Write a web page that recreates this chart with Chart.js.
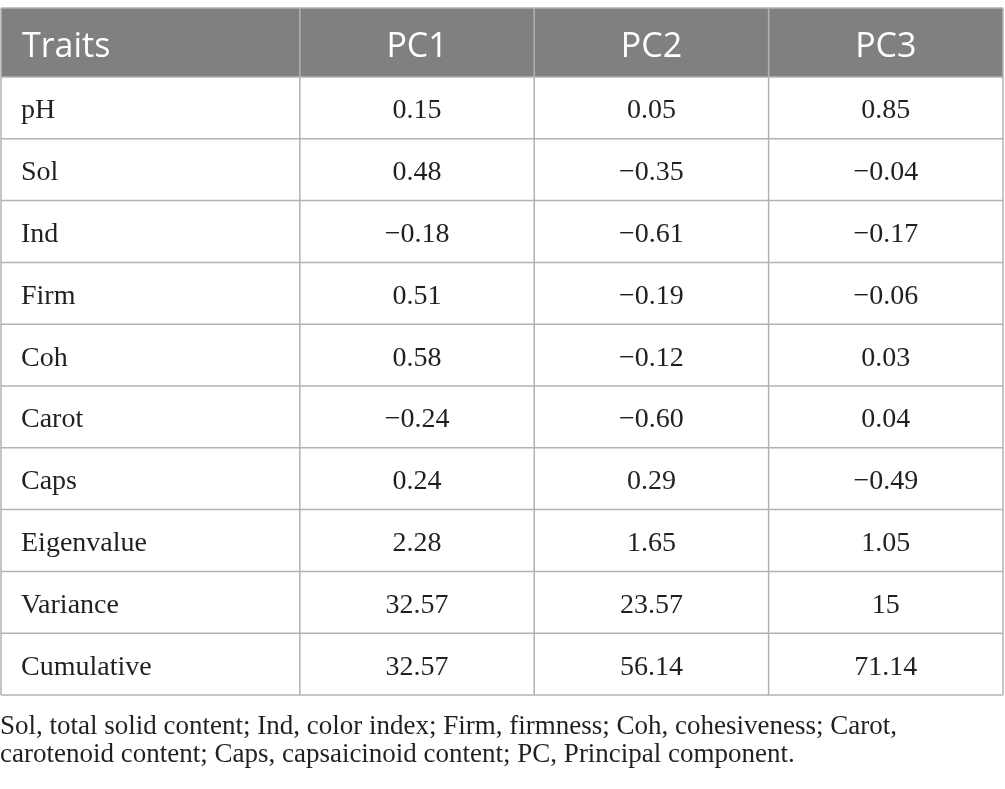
<!DOCTYPE html>
<html>
<head>
<meta charset="utf-8">
<script src="https://cdn.jsdelivr.net/npm/chart.js@4"></script>
<style>
  html, body { margin: 0; padding: 0; background: #fff; }
  #wrap { width: 1005px; height: 789px; position: relative; }
</style>
</head>
<body>
<div id="wrap"><canvas id="pcaTable"></canvas></div>
<script>
// Table data
const headers = ["Traits", "PC1", "PC2", "PC3"];
const traits = ["pH", "Sol", "Ind", "Firm", "Coh", "Carot", "Caps", "Eigenvalue", "Variance", "Cumulative"];
const pc1 = [0.15, 0.48, -0.18, 0.51, 0.58, -0.24, 0.24, 2.28, 32.57, 32.57];
const pc2 = [0.05, -0.35, -0.61, -0.19, -0.12, -0.60, 0.29, 1.65, 23.57, 56.14];
const pc3 = [0.85, -0.04, -0.17, -0.06, 0.03, 0.04, -0.49, 1.05, 15, 71.14];
const footnote = [
    "Sol, total solid content; Ind, color index; Firm, firmness; Coh, cohesiveness; Carot,",
    "carotenoid content; Caps, capsaicinoid content; PC, Principal component."
];

// layout (scale units): first column a bit wider, header row a bit taller
const colWidths = [1.275, 1, 1, 1];
const headerHeight = 1.117;
const totalX = colWidths.reduce((a, b) => a + b, 0);
const totalY = headerHeight + traits.length;

function fmt(v) {
    const s = Number.isInteger(v) ? String(v) : v.toFixed(2);
    return s.replace("-", "\u2212");
}

const tablePlugin = {
    id: "tablePlugin",
    afterDraw(chart) {
        const ctx = chart.ctx;
        const xs = chart.scales.x;
        const ys = chart.scales.y;
        const left = xs.getPixelForValue(0);
        const right = xs.getPixelForValue(totalX);
        const top = ys.getPixelForValue(0);
        const bottom = ys.getPixelForValue(totalY);

        // column edges
        const colEdges = [0];
        colWidths.forEach(w => colEdges.push(colEdges[colEdges.length - 1] + w));
        // row edges
        const rowEdges = [0, headerHeight];
        traits.forEach((t, i) => rowEdges.push(headerHeight + i + 1));

        ctx.save();
        // header background
        ctx.fillStyle = "#7f807f";
        ctx.fillRect(left, top, right - left, ys.getPixelForValue(headerHeight) - top);

        // grid lines
        ctx.strokeStyle = "#b2b2b2";
        ctx.lineWidth = 1.5;
        rowEdges.forEach(r => {
            const y = ys.getPixelForValue(r);
            ctx.beginPath();
            ctx.moveTo(left, y);
            ctx.lineTo(right, y);
            ctx.stroke();
        });
        colEdges.forEach(c => {
            const x = xs.getPixelForValue(c);
            ctx.beginPath();
            ctx.moveTo(x, top);
            ctx.lineTo(x, bottom);
            ctx.stroke();
        });

        // header text
        ctx.fillStyle = "#ffffff";
        ctx.font = "400 34px 'Open Sans'";
        ctx.textBaseline = "alphabetic";
        const hy = ys.getPixelForValue(headerHeight / 2) + 14;
        headers.forEach((h, i) => {
            if (i === 0) {
                ctx.textAlign = "left";
                ctx.fillText(h, xs.getPixelForValue(0) + 21, hy);
            } else {
                ctx.textAlign = "center";
                ctx.fillText(h, xs.getPixelForValue(colEdges[i] + colWidths[i] / 2), hy);
            }
        });

        // body text
        const cols = [pc1, pc2, pc3];
        ctx.fillStyle = "#231f20";
        ctx.font = "28px 'Liberation Serif'";
        traits.forEach((t, r) => {
            const y = ys.getPixelForValue(headerHeight + r + 0.5) + 10.5;
            ctx.textAlign = "left";
            ctx.fillText(t, xs.getPixelForValue(0) + 20, y);
            ctx.textAlign = "center";
            cols.forEach((vals, c) => {
                ctx.fillText(fmt(vals[r]), xs.getPixelForValue(colEdges[c + 1] + colWidths[c + 1] / 2), y);
            });
        });

        // footnote
        ctx.font = "27px 'Liberation Serif'";
        ctx.textAlign = "left";
        footnote.forEach((line, i) => {
            ctx.fillText(line, 0, bottom + 39 + i * 28);
        });
        ctx.restore();
    }
};

const canvas = document.getElementById("pcaTable");
new Chart(canvas, {
    type: "scatter",
    data: { datasets: [] },
    options: {
        responsive: true,
        maintainAspectRatio: false,
        animation: false,
        layout: {
            padding: { top: 8, left: 1, right: 2, bottom: 94 }
        },
        plugins: {
            legend: { display: false },
            tooltip: { enabled: false }
        },
        scales: {
            x: { type: "linear", min: 0, max: totalX, display: false },
            y: { type: "linear", min: 0, max: totalY, reverse: true, display: false }
        }
    },
    plugins: [tablePlugin]
});
</script>
</body>
</html>
